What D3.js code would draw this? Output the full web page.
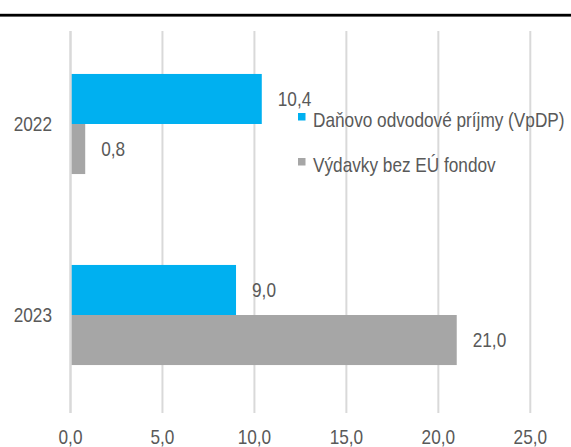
<!DOCTYPE html>
<html>
<head>
<meta charset="utf-8">
<script src="https://cdn.jsdelivr.net/npm/d3@7"></script>
<style>
	body { margin: 0; background: #fff; }
	text { font-family: "Liberation Sans", Arial, sans-serif; font-size: 21px; fill: #595959; }
</style>
</head>
<body>
<div id="chart"></div>
<script>
//---------------- data ----------------------
var years = ["2022", "2023"];
var seriesNames = ["Daňovo odvodové príjmy (VpDP)", "Výdavky bez EÚ fondov"];
var taxRevenue = [10.4, 9.0];
var expenditure = [0.8, 21.0];
var xTicks = [0, 5, 10, 15, 20, 25];
var colors = ["#00B0F0", "#A6A6A6"];

var w = 571;
var h = 447;
var narrow = 0.82; // no narrow font installed, squeeze horizontally

var svg = d3.select("#chart").append("svg")
	.attr("width", w)
	.attr("height", h);

// place a condensed text at x,y
var placeText = function(x, y) {
	return "translate(" + x + "," + y + ") scale(" + narrow + ",1)";
};

//---------------- scales ----------------------
var xScale = d3.scaleLinear()
	.domain([0, 25])
	.range([70.5, 530.3]);

var yScale = d3.scaleBand()
	.domain(years)
	.range([28.5, 410.5])
	.paddingInner(0.476)
	.paddingOuter(0.238);

var subScale = d3.scaleBand()
	.domain([0, 1])
	.range([0, yScale.bandwidth()]);

// top rule
svg.append("rect")
	.attr("x", 0)
	.attr("y", 13.8)
	.attr("width", w)
	.attr("height", 2.8)
	.attr("fill", "#000");

// grid lines
svg.append("g").selectAll("line")
	.data(xTicks.slice(1))
	.enter()
	.append("line")
	.attr("x1", function(d) { return xScale(d); })
	.attr("x2", function(d) { return xScale(d); })
	.attr("y1", 31)
	.attr("y2", 413)
	.attr("stroke", "#d9d9d9")
	.attr("stroke-width", 2);

//---------------- bars ----------------------
var rows = years.map(function(y, i) {
	return [taxRevenue[i], expenditure[i]];
});

var groups = svg.append("g").selectAll("g")
	.data(years)
	.enter()
	.append("g")
	.attr("transform", function(d) { return "translate(0," + yScale(d) + ")"; });

groups.selectAll("rect")
	.data(function(d, i) { return rows[i]; })
	.enter()
	.append("rect")
	.attr("x", xScale(0))
	.attr("y", function(d, j) { return subScale(j); })
	.attr("width", function(d) { return xScale(d) - xScale(0); })
	.attr("height", subScale.bandwidth())
	.attr("fill", function(d, j) { return colors[j]; });

groups.selectAll("text")
	.data(function(d, i) { return rows[i]; })
	.enter()
	.append("text")
	.attr("transform", function(d, j) {
		return placeText(xScale(d) + 16, subScale(j) + subScale.bandwidth() / 2);
	})
	.attr("dy", "0.35em")
	.text(function(d) { return d.toFixed(1).replace(".", ","); });

// zero axis line on top of bars
svg.append("line")
	.attr("x1", xScale(0))
	.attr("x2", xScale(0))
	.attr("y1", 31)
	.attr("y2", 413)
	.attr("stroke", "#d9d9d9")
	.attr("stroke-width", 2.5);

//---------------- axis labels ----------------------
svg.append("g").selectAll("text")
	.data(years)
	.enter()
	.append("text")
	.attr("transform", function(d) {
		return placeText(52, yScale(d) + yScale.bandwidth() / 2);
	})
	.attr("dy", "0.35em")
	.attr("text-anchor", "end")
	.text(function(d) { return d; });

svg.append("g").selectAll("text")
	.data(xTicks)
	.enter()
	.append("text")
	.attr("transform", function(d) { return placeText(xScale(d), 437); })
	.attr("dy", "0.35em")
	.attr("text-anchor", "middle")
	.text(function(d) { return d.toFixed(1).replace(".", ","); });

//---------------- legend ----------------------
var legend = svg.append("g").selectAll("g")
	.data(seriesNames)
	.enter()
	.append("g")
	.attr("transform", function(d, i) { return "translate(298," + (113 + i * 45) + ")"; });

legend.append("rect")
	.attr("width", 7.5)
	.attr("height", 7.5)
	.attr("fill", function(d, i) { return colors[i]; });

legend.append("text")
	.attr("transform", placeText(15, 14))
	.text(function(d) { return d; });
</script>
</body>
</html>
